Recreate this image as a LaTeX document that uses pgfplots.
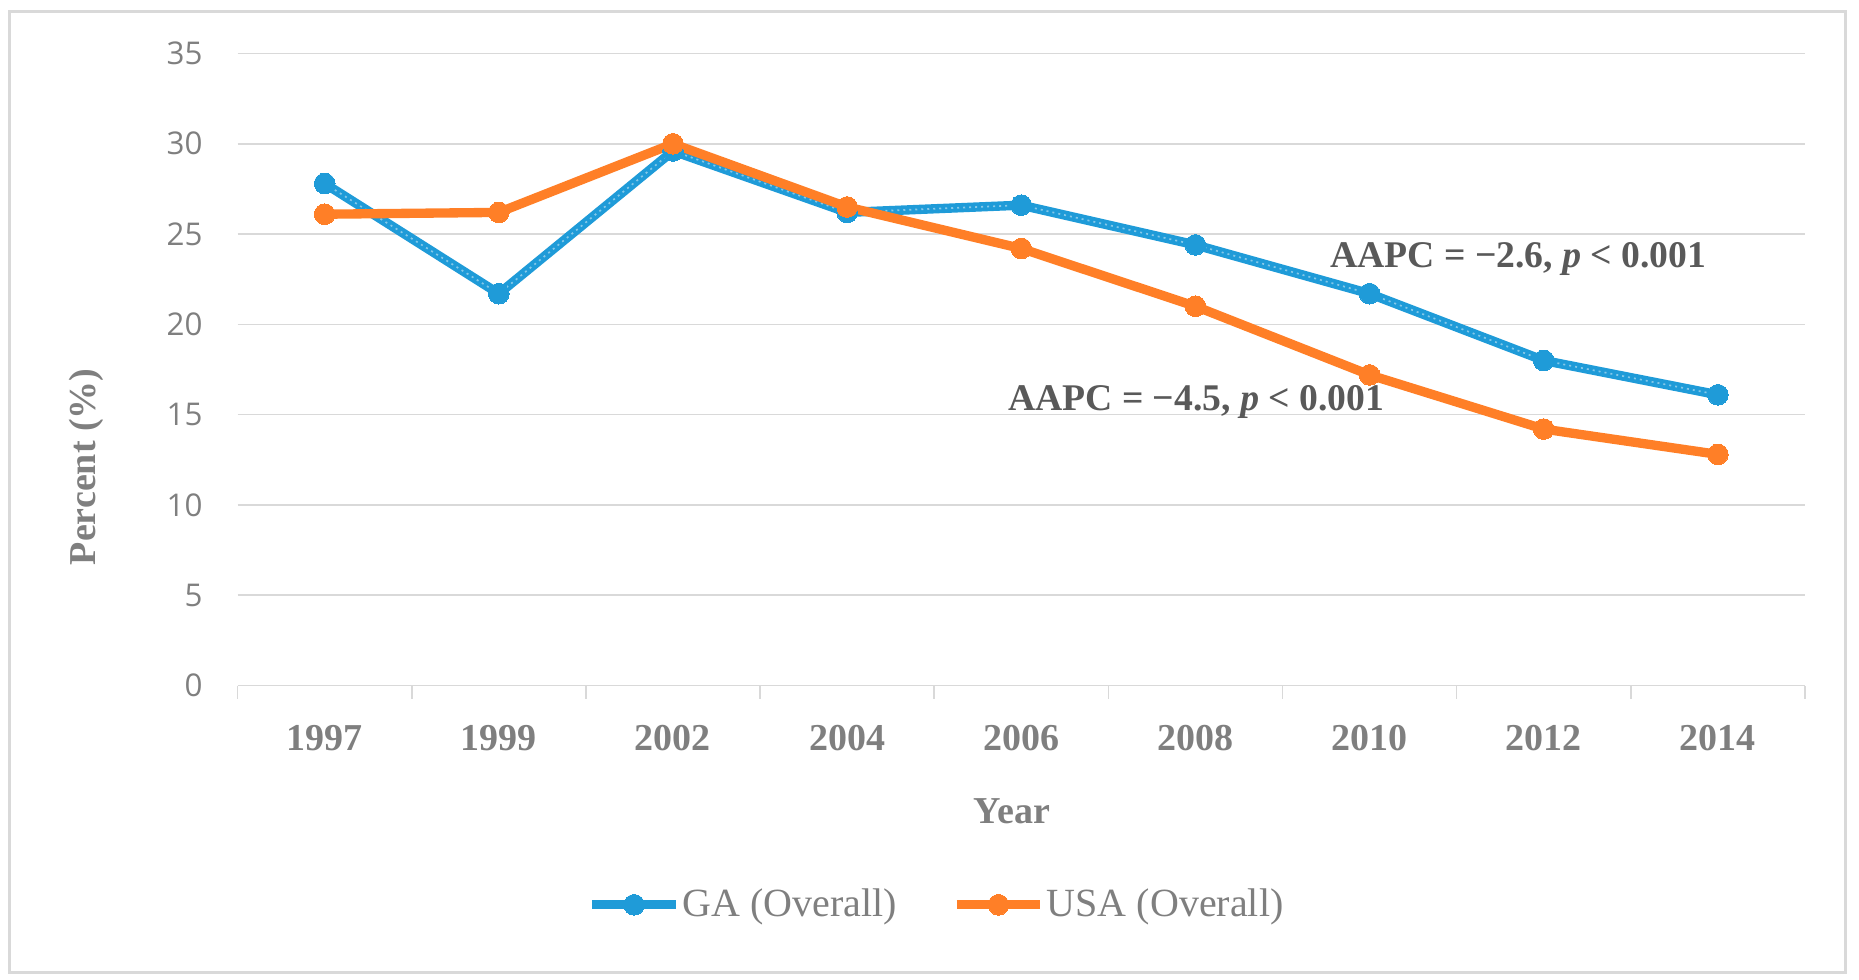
\documentclass[border=0pt]{standalone}
\usepackage{fontspec}
\setmainfont{Liberation Serif}
\newfontfamily\ticksans{Open Sans}
\usepackage{pgfplots}
\usepackage{pgfplotstable}
\pgfplotsset{compat=1.18}

\definecolor{gablue}{HTML}{1F9BD8}
\definecolor{usorange}{HTML}{FF7F27}
\definecolor{gridgray}{HTML}{D9D9D9}
\definecolor{labgray}{HTML}{7F7F7F}
\definecolor{anngray}{HTML}{595959}

% x = category index, years kept for reference
\pgfplotstableread{
x year ga usa
0 1997 27.8 26.1
1 1999 21.7 26.2
2 2002 29.6 30.0
3 2004 26.2 26.5
4 2006 26.6 24.2
5 2008 24.4 21.0
6 2010 21.7 17.2
7 2012 18.0 14.2
8 2014 16.1 12.8
}\trend

\begin{document}
\begin{tikzpicture}
  % page extent and outer frame (1 px = 0.3pt)
  \path (-71.28pt,-88.05pt) rectangle (486.4pt,205.65pt);
  \draw[gridgray, line width=0.9pt] (-68.4pt,-85.95pt) rectangle (482.2pt,202.05pt);

  \begin{axis}[
      at={(0pt,0pt)}, anchor=south west,
      scale only axis,
      width=470.2pt, height=189.6pt,
      xmin=-0.5, xmax=8.5,
      ymin=0, ymax=35,
      xtick={0,...,8},
      xticklabels={1997,1999,2002,2004,2006,2008,2010,2012,2014},
      minor xtick={-0.5,0.5,...,8.5},
      ytick={0,5,...,35},
      major tick length=0pt,
      minor tick length=4pt,
      tick align=outside,
      minor tick style={gridgray, line width=0.45pt},
      axis lines*=left,
      y axis line style={draw=none},
      x axis line style={gridgray, line width=0.45pt},
      ymajorgrids=true,
      grid style={gridgray, line width=0.45pt},
      /pgf/number format/assume math mode=true,
      yticklabel style={font=\ticksans\fontsize{9.4}{11}\selectfont, text=labgray, xshift=-7pt},
      xticklabel style={font=\bfseries\fontsize{11.4}{13}\selectfont, text=labgray, yshift=-8.5pt},
      xlabel={Year},
      ylabel={Percent (\%)},
      every axis x label/.style={at={(axis description cs:0.494,-0.199)}, anchor=center,
        font=\bfseries\fontsize{11.4}{13}\selectfont, text=labgray},
      every axis y label/.style={at={(axis description cs:-0.0968,0.346)}, anchor=center, rotate=90,
        font=\bfseries\fontsize{11.4}{13}\selectfont, text=labgray},
      legend style={at={(axis description cs:0.446,-0.347)}, anchor=center, draw=none,
        font=\fontsize{12}{14}\selectfont, text=labgray,
        nodes={inner sep=0.6pt},
        /tikz/every even column/.append style={column sep=16pt}},
      legend columns=2,
      legend image code/.code={
        \draw[mark repeat=2, mark phase=2] plot coordinates {(0pt,0pt) (12.5pt,0pt) (25pt,0pt)};
      },
      clip=false,
  ]

  \addplot[gablue, line width=2.8pt, mark=*, mark size=3.1pt,
    mark options={solid, fill=gablue, draw=gablue, line width=0pt}]
    table[x=x, y=ga] {\trend};
  \addlegendentry{GA (Overall)}

  % light dotted texture on the blue line
  \addplot[white, opacity=0.45, line width=0.5pt, dash pattern=on 0.6pt off 1.2pt, forget plot]
    table[x=x, y=ga] {\trend};

  \addplot[usorange, line width=2.8pt, mark=*, mark size=3.1pt,
    mark options={solid, fill=usorange, draw=usorange, line width=0pt}]
    table[x=x, y=usa] {\trend};
  \addlegendentry{USA (Overall)}

  \node[anchor=west, inner sep=0pt, text=anngray, font=\bfseries\fontsize{11.3}{13}\selectfont]
    at (axis cs:5.77,23.6) {AAPC = −2.6, \textit{p} < 0.001};
  \node[anchor=west, inner sep=0pt, text=anngray, font=\bfseries\fontsize{11.3}{13}\selectfont]
    at (axis cs:3.92,15.7) {AAPC = −4.5, \textit{p} < 0.001};

  \end{axis}
\end{tikzpicture}
\end{document}
